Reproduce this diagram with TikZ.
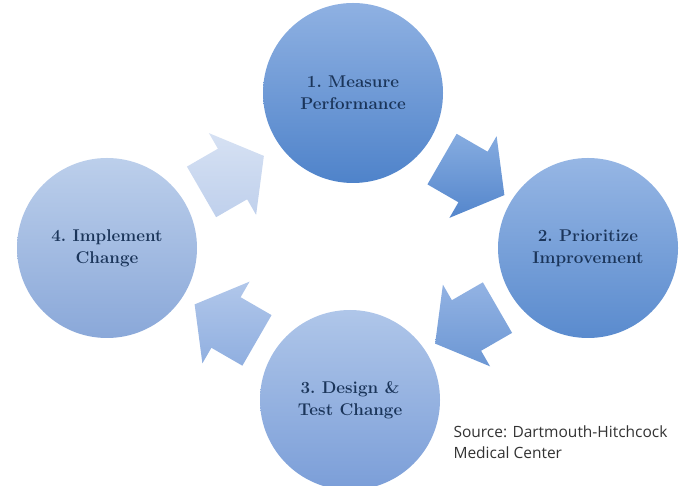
\documentclass[tikz,border=0pt]{standalone}
\usepackage{fontspec}
\newfontfamily\srcfont{Open Sans}
\usepackage{xcolor}
\usetikzlibrary{calc,positioning,shapes.arrows}

\definecolor{navy}{HTML}{1B355A}
\definecolor{srcgray}{HTML}{333333}
% circle shades
\definecolor{s1top}{HTML}{8FB1E2}\definecolor{s1bot}{HTML}{4F83CA}
\definecolor{s2top}{HTML}{96B6E4}\definecolor{s2bot}{HTML}{5A8BCE}
\definecolor{s3top}{HTML}{AFC6E9}\definecolor{s3bot}{HTML}{7B9ED8}
\definecolor{s4top}{HTML}{BCCFEB}\definecolor{s4bot}{HTML}{8AA8D9}
% arrow shades
\definecolor{a1top}{HTML}{86ACE0}\definecolor{a1bot}{HTML}{5486CC}
\definecolor{a2top}{HTML}{93B3E3}\definecolor{a2bot}{HTML}{6C97D4}
\definecolor{a3top}{HTML}{B1C7EA}\definecolor{a3bot}{HTML}{90AFE0}
\definecolor{a4top}{HTML}{D6E1F3}\definecolor{a4bot}{HTML}{BFD0EC}

\tikzset{
  stage/.style 2 args = {circle, minimum size=180pt, inner sep=0pt,
    top color=#1, bottom color=#2, text=navy, align=center,
    font=\fontsize{17}{22}\selectfont\bfseries\frenchspacing},
  flow/.style 2 args = {single arrow, minimum height=72pt,
    inner xsep=0pt, inner ysep=29pt,
    single arrow head extend=18pt, single arrow tip angle=105,
    top color=#1, bottom color=#2},
}

\begin{document}
\begin{tikzpicture}[x=1pt, y=1pt]
  \useasboundingbox (0,0) rectangle (684,486);

  \coordinate (c) at (350,238);

  \node[stage={s1top}{s1bot}] (s1) at ($(c)+(3,155)$) {1. Measure\\Performance};
  \node[stage={s2top}{s2bot}] (s2) at ($(c)+(238,0)$) {2. Prioritize\\Improvement};
  \node[stage={s3top}{s3bot}] (s3) at ($(c)+(0,-152)$) {3. Design \&\\Test Change};
  \node[stage={s4top}{s4bot}] (s4) at ($(c)+(-243,0)$) {4. Implement\\Change};

  % arrows between the stages
  \node[flow={a1top}{a1bot}, rotate=-30] (a1) at ($($(s1)!0.5!(s2)$)+(-7,-1)$) {};
  \node[flow={a2top}{a2bot}, rotate=-150] (a2) at ($($(s2)!0.5!(s3)$)+(7,4)$) {};
  \node[flow={a3top}{a3bot}, rotate=150] (a3) at ($($(s3)!0.5!(s4)$)+(7,-4)$) {};
  \node[flow={a4top}{a4bot}, rotate=30] (a4) at ($($(s4)!0.5!(s1)$)+(-7,-9)$) {};

  \node[anchor=west, align=left, text=srcgray, font=\srcfont\fontsize{15.5}{21}\selectfont]
    (n) at (450,44) {Source: Dartmouth-Hitchcock\\Medical Center};
\end{tikzpicture}
\end{document}
